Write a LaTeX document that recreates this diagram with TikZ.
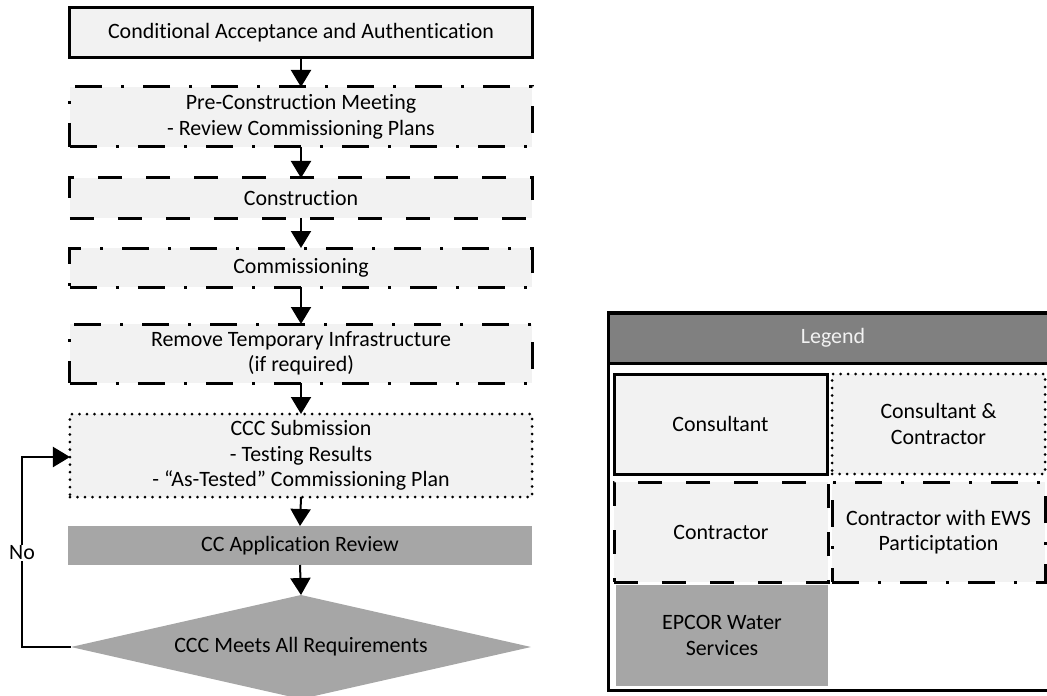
\documentclass[tikz,border=0pt]{standalone}
\usepackage{fontspec}
\setmainfont{Carlito}[Ligatures=NoCommon]
\usetikzlibrary{arrows.meta,shapes.geometric}
\definecolor{boxfill}{HTML}{F2F2F2}
\definecolor{ewsfill}{HTML}{A6A6A6}
\definecolor{headfill}{HTML}{808080}

\tikzset{
  txt/.style={font=\fontsize{22}{25.5}\selectfont},
  base/.style={rectangle, fill=boxfill, line width=3bp, inner sep=0pt, outer sep=0pt,
    align=center, txt, text=black},
  consultant/.style={base, draw},
  contractor/.style={base, draw, dash pattern=on 24bp off 24bp},
  ewsbox/.style={base, draw, dash pattern=on 27bp off 19bp on 3bp off 19bp},
  jointbox/.style={base, draw, dash pattern=on 0bp off 7.5bp, line cap=round},
  epcor/.style={base, fill=ewsfill},
  flow/.style={line width=2bp, -{Triangle[length=17bp,width=20bp]}},
}

\begin{document}
\begin{tikzpicture}[x=1bp, y=-1bp]
\useasboundingbox (0,0) rectangle (1047,696);

% process steps
\node[consultant, minimum width=462bp, minimum height=50bp] (cca) at (301,33)
  {Conditional Acceptance and Authentication};
\node[ewsbox, minimum width=462bp, minimum height=60bp] (pcm) at (301,117)
  {Pre-Construction Meeting\\- Review Commissioning Plans};
\node[contractor, minimum width=462bp, minimum height=40bp] (con) at (301,198)
  {Construction};
\node[ewsbox, minimum width=462bp, minimum height=39bp] (com) at (301,267.5)
  {Commissioning};
\node[ewsbox, minimum width=462bp, minimum height=59bp] (rti) at (301,353.5)
  {Remove Temporary Infrastructure\\(if required)};
\node[jointbox, minimum width=462bp, minimum height=83bp] (ccc) at (301,455.5)
  {CCC Submission\\- Testing Results\\- “As-Tested” Commissioning Plan};
\node[epcor, minimum width=464bp, minimum height=39bp] (car) at (300,545.5)
  {CC Application Review};
\node[shape=diamond, fill=ewsfill, inner sep=0pt, outer sep=0pt, aspect=4.4,
  minimum width=460bp, minimum height=104bp, txt]
  (req) at (301,647) {CCC Meets All Requirements};

% connectors
\draw[flow] (cca.south) -- (pcm.north);
\draw[flow] (pcm.south) -- (con.north);
\draw[flow] (con.south) -- (com.north);
\draw[flow] (com.south) -- (rti.north);
\draw[flow] (rti.south) -- (ccc.north);
\draw[flow] (ccc.south) -- (car.north);
\draw[flow] (car.south) -- (req.north);
\coordinate (loopB) at (22,647);
\coordinate (loopT) at (22,457);
\draw[flow] (req.west) -- (loopB) -- (loopT) -- (loopT -| ccc.west);
\node[fill=white, inner sep=1bp, txt] (no) at (22,553) {No};

% legend
\node[draw, line width=3bp, rectangle, inner sep=0pt, outer sep=0pt,
  minimum width=450bp, minimum height=377bp] (frame) at (833,501.5) {};
\node[draw, fill=headfill, line width=3bp, rectangle, inner sep=0pt, outer sep=0pt,
  minimum width=450bp, minimum height=50bp, text=boxfill, txt] (head) at (833,338) {Legend};
\node[consultant, minimum width=213bp, minimum height=100bp] (lcons) at (720.5,424)
  {Consultant};
\node[jointbox, minimum width=213bp, minimum height=100bp] (ljoint) at (938.5,424)
  {Consultant \&\\Contractor};
\node[contractor, minimum width=214bp, minimum height=100bp] (lcontr) at (721,532)
  {Contractor};
\node[ewsbox, minimum width=213bp, minimum height=100bp] (lews) at (938.5,532)
  {Contractor with EWS\\Participtation};
\node[epcor, minimum width=212bp, minimum height=101bp] (lepcor) at (722,635.5)
  {EPCOR Water\\Services};
\end{tikzpicture}
\end{document}
